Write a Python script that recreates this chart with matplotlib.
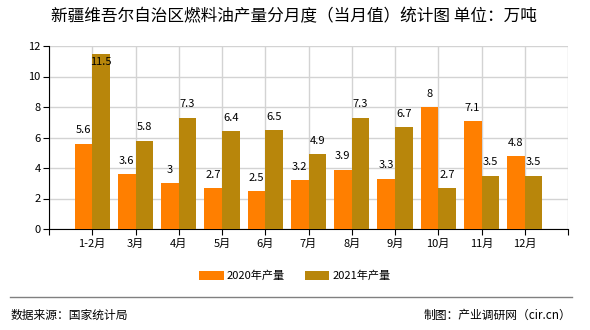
import matplotlib
matplotlib.use('Agg')
import matplotlib.pyplot as plt
import numpy as np

plt.rcParams['font.family'] = ['Noto Sans CJK SC', 'DejaVu Sans']

months = ['1-2月', '3月', '4月', '5月', '6月', '7月', '8月', '9月', '10月', '11月', '12月']
prod2020 = [5.6, 3.6, 3, 2.7, 2.5, 3.2, 3.9, 3.3, 8, 7.1, 4.8]
prod2021 = [11.5, 5.8, 7.3, 6.4, 6.5, 4.9, 7.3, 6.7, 2.7, 3.5, 3.5]
labels = ['2020年产量', '2021年产量']
colors = ['#FF7F00', '#B8860B']

fig = plt.figure(figsize=(5.9, 3.3), dpi=100)
ax = fig.add_axes([49/590, 1 - 229/330, (568-49)/590, (229-46)/330])

x = np.arange(1, len(months) + 1)
w = 0.41
b1 = ax.bar(x - w/2, prod2020, w, color=colors[0], label=labels[0], zorder=3)
b2 = ax.bar(x + w/2, prod2021, w, color=colors[1], label=labels[1], zorder=3)

for bars, vals in [(b1, prod2020), (b2, prod2021)]:
    for rect, v in zip(bars, vals):
        off = 9.5 if v < 11 else -6
        ax.annotate(f'{v:g}', (rect.get_x() + rect.get_width()/2, v),
                    xytext=(0, off), textcoords='offset points',
                    ha='center', va='center', fontsize=8, zorder=4)

ax.set_xlim(0, 12)
ax.set_ylim(0, 12)
ax.set_xticks(range(0, 13))
ax.set_xticklabels([''] + months + [''], fontsize=8)
ax.set_yticks(range(0, 13, 2))
ax.tick_params(axis='y', labelsize=8, length=4, pad=2)
ax.tick_params(axis='x', length=4, pad=3)
ax.grid(True, color='#d3d3d3', linewidth=1, zorder=0)
for s in ['top', 'right']:
    ax.spines[s].set_visible(False)
ax.spines['left'].set_color('black')
ax.spines['bottom'].set_color('black')

fig.text(294/590, 1 - 17/330, '新疆维吾尔自治区燃料油产量分月度（当月值）统计图 单位：万吨',
         ha='center', va='center', fontsize=12)

fig.legend(loc='center', bbox_to_anchor=(0.5, 1 - 276/330), ncol=2, frameon=False,
           fontsize=8, handlelength=2.2, handleheight=0.9, columnspacing=1.8,
           handletextpad=0.3)

fig.add_artist(plt.Line2D([10/590, 572/590], [1 - 297/330, 1 - 297/330],
                          color='#808080', linewidth=1))
fig.text(11/590, 1 - 315/330, '数据来源：国家统计局', ha='left', va='center', fontsize=8.5)
fig.text(571/590, 1 - 315/330, '制图：产业调研网（cir.cn）', ha='right', va='center', fontsize=8.5)

fig.savefig('out.png', dpi=100)
